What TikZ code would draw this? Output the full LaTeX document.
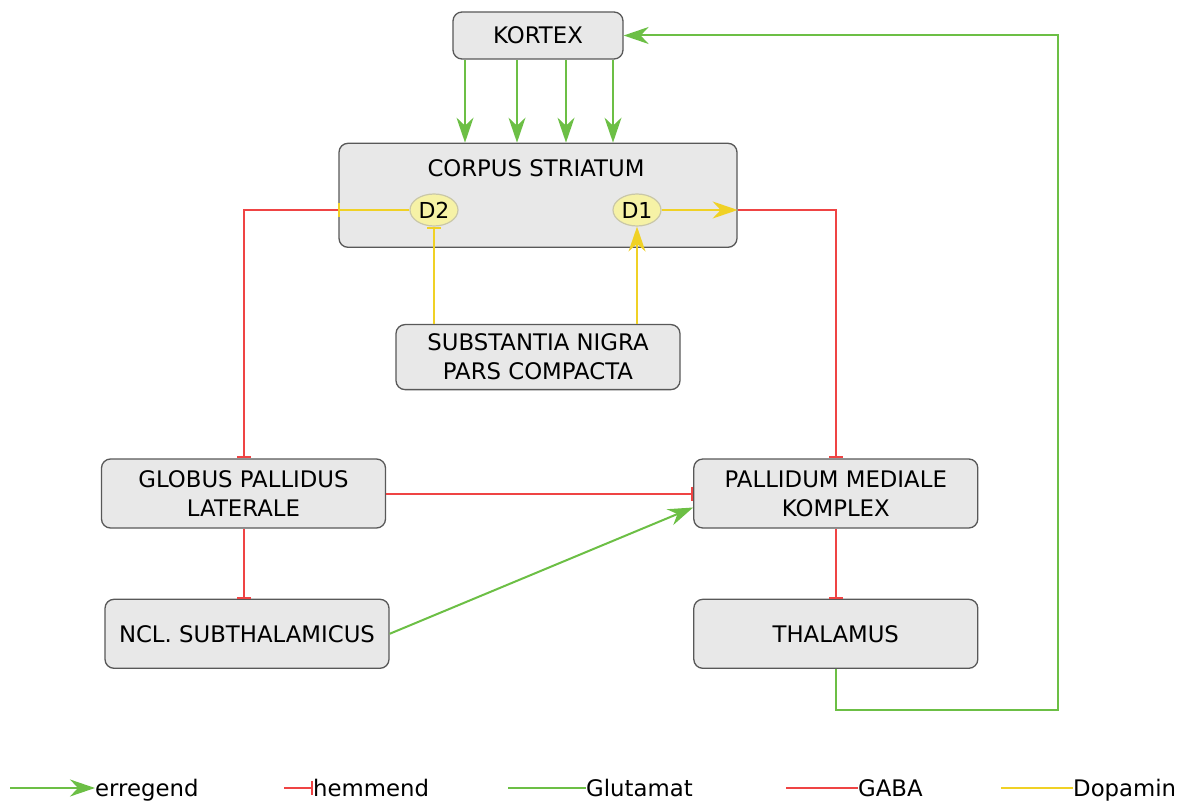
\documentclass[tikz,border=0pt]{standalone}
\usepackage{fontspec}
\setmainfont{DejaVu Sans}
\usetikzlibrary{arrows.meta,positioning,shapes.geometric}
\definecolor{glutgreen}{HTML}{6CBF45}
\definecolor{gabared}{HTML}{EF4444}
\definecolor{dopayellow}{HTML}{F0D125}
\definecolor{boxgrey}{HTML}{E8E8E8}
\definecolor{boxline}{HTML}{585858}
\definecolor{recfill}{HTML}{F6F2A6}
\definecolor{recline}{HTML}{C9C7A8}

\begin{document}
\begin{tikzpicture}[
  x=1pt, y=-1pt,
  font=\fontsize{22.8}{29}\selectfont,
  area/.style={draw=boxline, fill=boxgrey, rounded corners=9pt, line width=1.3pt, align=center, minimum width=284, minimum height=69, inner sep=0pt},
  rec/.style={ellipse, draw=recline, fill=recfill, line width=1.2pt, minimum width=48, minimum height=32, inner sep=0pt, font=\fontsize{22}{26}\selectfont},
  glu/.style={draw=glutgreen, line width=2pt},
  gaba/.style={draw=gabared, line width=2pt},
  dopa/.style={draw=dopayellow, line width=2pt},
  exc/.style={-{Stealth[length=25pt, width=17pt, inset=8pt]}},
  inh/.style={-{Bar[width=14pt]}},
  legtext/.style={anchor=base west, inner sep=0pt}
]
\useasboundingbox (0,0) rectangle (1189,802);

\node[area, minimum width=170, minimum height=47] (kortex) at (538,35.5) {KORTEX};
\node[area, minimum width=398, minimum height=104, below=83pt of kortex,
  label={[anchor=center, yshift=-26pt, xshift=-2pt]north:CORPUS STRIATUM}] (striatum) {};
\node[rec] (d2) at (434,210) {D2};
\node[rec] (d1) at (637,210) {D1};
\node[area, minimum height=65, below=76pt of striatum] (snc) {SUBSTANTIA NIGRA\\PARS COMPACTA};
\node[area] (gpl) at (243.5,493.5) {GLOBUS PALLIDUS\\LATERALE};
\node[area, right=307pt of gpl] (pmk) {PALLIDUM MEDIALE\\KOMPLEX};
\node[area, below=70pt of gpl, xshift=3.5pt] (ncl) {NCL. SUBTHALAMICUS};
\node[area, below=70pt of pmk] (thal) {THALAMUS};
\coordinate (loop) at (1058,710);

\foreach \x in {465,517,566,613}
  \draw[glu, exc] (kortex.south -| \x,0) -- (striatum.north -| \x,0);
\draw[dopa, inh] (d2) -- (striatum.west |- d2);
\draw[gaba, inh] (striatum.west |- d2) -| (gpl.north);
\draw[dopa, exc] (d1) -- (striatum.east |- d1);
\draw[gaba, inh] (striatum.east |- d1) -| (pmk.north);
\draw[dopa, inh] (snc.north -| d2) -- (d2.south);
\draw[dopa, exc] (snc.north -| d1) -- (d1.south);
\draw[gaba, inh] (gpl.east) -- (pmk.west);
\draw[glu, exc] (ncl.east) -- ([yshift=-14pt]pmk.west);
\draw[gaba, inh] (gpl.south) -- (ncl.north -| gpl.south);
\draw[gaba, inh] (pmk) -- (thal);
\draw[glu, exc] (thal.south) |- (loop) |- (kortex.east);

\coordinate (leg1) at (10,788);
\coordinate (leg2) at (284,788);
\coordinate (leg3) at (508,788);
\coordinate (leg4) at (786,788);
\coordinate (leg5) at (1001,788);
\node[legtext] (erregend) at (95,796) {erregend};
\node[legtext] (hemmend) at (313,796) {hemmend};
\node[legtext] (glutamat) at (586,796) {Glutamat};
\node[legtext] (gabatext) at (858,796) {GABA};
\node[legtext] (dopamin) at (1073,796) {Dopamin};
\draw[glu, exc] (leg1) -- (leg1 -| erregend.west);
\draw[gaba, inh] (leg2) -- (leg2 -| hemmend.west);
\draw[glu] (leg3) -- (leg3 -| glutamat.west);
\draw[gaba] (leg4) -- (leg4 -| gabatext.west);
\draw[dopa] (leg5) -- (leg5 -| dopamin.west);
\end{tikzpicture}
\end{document}
